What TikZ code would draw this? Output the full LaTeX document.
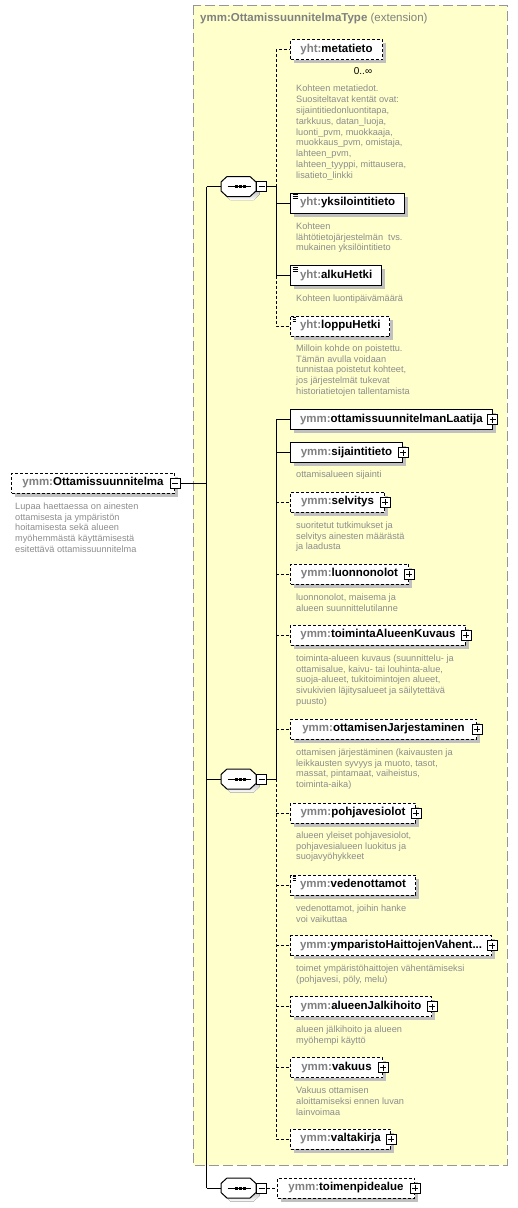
\documentclass[tikz,border=0pt]{standalone}
\usepackage{fontspec}
\setmainfont{Liberation Sans}
\usepackage{xcolor}
\usepackage{tikz}
\usetikzlibrary{shadows,positioning}
\definecolor{pfx}{RGB}{128,128,128}
\definecolor{notegray}{RGB}{140,140,140}
\definecolor{extfill}{RGB}{255,255,204}
\definecolor{extline}{RGB}{150,150,150}
\definecolor{shade}{RGB}{192,192,192}
\newcommand{\elemfont}{\fontsize{11.5}{13}\selectfont\bfseries}
\newcommand{\notefont}{\fontsize{9.2}{10.8}\selectfont}
\newcommand{\yht}[1]{{\color{pfx}yht:}#1}
\newcommand{\ymm}[1]{{\color{pfx}ymm:}#1}
% octagon of a sequence compositor, drawn round a named node
\newcommand{\seqshape}[1]{%
    \fill[shade] ([xshift=3.5pt,yshift=-3.5pt]#1.west) ++(0,-4.5) -- ++(6,-5.5) -- ++(23,0) -- ++(6,5.5) -- ++(0,9) -- ++(-6,5.5) -- ++(-23,0) -- ++(-6,-5.5) -- cycle;
    \draw[line width=1pt, fill=white] (#1.west) ++(0,-4.5) -- ++(6,-5.5) -- ++(23,0) -- ++(6,5.5) -- ++(0,9) -- ++(-6,5.5) -- ++(-23,0) -- ++(-6,-5.5) -- cycle;
    \draw[line width=1pt] ([xshift=-11pt]#1.center) -- ([xshift=12pt]#1.center);
    \fill ([xshift=-2pt]#1.center) +(-1.5pt,-1.5pt) rectangle +(1.5pt,1.5pt);
    \fill ([xshift=2pt]#1.center) +(-1.5pt,-1.5pt) rectangle +(1.5pt,1.5pt);
    \fill ([xshift=6pt]#1.center) +(-1.5pt,-1.5pt) rectangle +(1.5pt,1.5pt);}
\tikzstyle{elem} = [rectangle, draw, fill=white, line width=1pt, minimum height=20pt, inner xsep=9.5pt, inner ysep=0pt, anchor=west, font=\elemfont, drop shadow={shadow xshift=3.5pt, shadow yshift=-3.5pt, fill=shade, opacity=1}]
\tikzstyle{optelem} = [elem, dash pattern=on 3pt off 2pt]
\tikzstyle{simple} = [path picture={
    \draw[line width=0.7pt] ([xshift=2.2pt,yshift=-1.8pt]path picture bounding box.north west) -- ++(5pt,0pt);
    \draw[line width=0.7pt] ([xshift=2.2pt,yshift=-3.6pt]path picture bounding box.north west) -- ++(5pt,0pt);
    \draw[line width=0.7pt] ([xshift=2.2pt,yshift=-5.4pt]path picture bounding box.north west) -- ++(5pt,0pt);}]
\tikzstyle{note} = [align=left, inner sep=0pt, text=notegray, font=\notefont]
\tikzstyle{minusbox} = [rectangle, draw, fill=white, line width=0.8pt, minimum size=10pt, inner sep=0pt, path picture={
    \draw[line width=0.8pt] ([xshift=2pt]path picture bounding box.west) -- ([xshift=-2pt]path picture bounding box.east);}]
\tikzstyle{plusbox} = [rectangle, draw, fill=white, line width=0.8pt, minimum size=10pt, inner sep=0pt, path picture={
    \draw[line width=0.8pt] ([xshift=2pt]path picture bounding box.west) -- ([xshift=-2pt]path picture bounding box.east);
    \draw[line width=0.8pt] ([yshift=-2pt]path picture bounding box.north) -- ([yshift=2pt]path picture bounding box.south);}]
\tikzstyle{seqbox} = [rectangle, minimum width=35pt, minimum height=20pt, inner sep=0pt, anchor=west]
\tikzstyle{line} = [draw, line width=1pt]
\tikzstyle{optline} = [draw, line width=1pt, dash pattern=on 3pt off 2pt]

\begin{document}
\begin{tikzpicture}[x=1pt, y=-1pt]
    \useasboundingbox (0,0) rectangle (518,1208);

    % extension frame
    \draw[extline, fill=extfill, line width=1pt, dash pattern=on 10pt off 4pt] (193,5) rectangle (507,1165);
    \node[anchor=west, inner sep=0pt, text=pfx, font=\elemfont] (ext) at (200,19) {ymm:OttamissuunnitelmaType \mdseries(extension)};

    % root element
    \node[optelem, minimum width=163pt] (root) at (11,483) {\ymm{Ottamissuunnitelma}};
    \node[minusbox] (root-m) at (root.east) {};
    \node[note, below right=9pt and 4pt of root.south west] (root-n) {Lupaa haettaessa on ainesten\\ottamisesta ja ympäristön\\hoitamisesta sekä alueen\\myöhemmästä käyttämisestä\\esitettävä ottamissuunnitelma};

    % sequences
    \node[seqbox] (seq1) at (221,186.5) {};
    \seqshape{seq1}
    \node[minusbox, anchor=west] (seq1-m) at (seq1.east) {};
    \node[seqbox] (seq2) at (221,779) {};
    \seqshape{seq2}
    \node[minusbox, anchor=west] (seq2-m) at (seq2.east) {};
    \node[seqbox] (seq3) at (221,1188) {};
    \seqshape{seq3}
    \node[minusbox, anchor=west] (seq3-m) at (seq3.east) {};

    \coordinate (t1) at (206.5,186.5);
    \coordinate (t3) at (206.5,1188);
    \coordinate (b1) at (276,186.5);
    \coordinate (b2) at (276,779);

    % first sequence
    \node[optelem, minimum width=92pt] (meta) at (290,49.5) {\yht{metatieto}};
    \node[inner sep=0pt, font=\fontsize{10}{12}\selectfont] (meta-o) at (363,71) {0..∞};
    \node[note, below right=25pt and 6pt of meta.south west] (meta-n) {Kohteen metatiedot.\\Suositeltavat kentät ovat:\\sijaintitiedonluontitapa,\\tarkkuus, datan\_luoja,\\luonti\_pvm, muokkaaja,\\muokkaus\_pvm, omistaja,\\lahteen\_pvm,\\lahteen\_tyyppi, mittausera,\\lisatieto\_linkki};
    \node[elem, simple, minimum width=110pt] (yks) at (290,203) {\yht{yksilointitieto}};
    \node[note, below right=9pt and 6pt of yks.south west] (yks-n) {Kohteen\\lähtötietojärjestelmän\ \ tvs.\\mukainen yksilöintitieto};
    \node[elem, simple, minimum width=86pt] (alku) at (290,275.5) {\yht{alkuHetki}};
    \node[note, below right=9pt and 6pt of alku.south west] (alku-n) {Kohteen luontipäivämäärä};
    \node[optelem, simple, minimum width=95pt] (loppu) at (290,326) {\yht{loppuHetki}};
    \node[note, below right=8pt and 6pt of loppu.south west] (loppu-n) {Milloin kohde on poistettu.\\Tämän avulla voidaan\\tunnistaa poistetut kohteet,\\jos järjestelmät tukevat\\historiatietojen tallentamista};

    % second sequence
    \node[elem, minimum width=200pt] (laatija) at (290,419.5) {\ymm{ottamissuunnitelmanLaatija}};
    \node[plusbox] (laatija-p) at (laatija.east) {};
    \node[elem, minimum width=112pt] (sijainti) at (290,452.5) {\ymm{sijaintitieto}};
    \node[plusbox] (sijainti-p) at (sijainti.east) {};
    \node[note, below right=8pt and 6pt of sijainti.south west] (sijainti-n) {ottamisalueen sijainti};
    \node[optelem, minimum width=94pt] (selvitys) at (290,502) {\ymm{selvitys}};
    \node[plusbox] (selvitys-p) at (selvitys.east) {};
    \node[note, below right=9pt and 6pt of selvitys.south west] (selvitys-n) {suoritetut tutkimukset ja\\selvitys ainesten määrästä\\ja laadusta};
    \node[optelem, minimum width=118pt] (luonto) at (290,574) {\ymm{luonnonolot}};
    \node[plusbox] (luonto-p) at (luonto.east) {};
    \node[note, below right=9pt and 6pt of luonto.south west] (luonto-n) {luonnonolot, maisema ja\\alueen suunnittelutilanne};
    \node[optelem, minimum width=175pt] (toiminta) at (290,635) {\ymm{toimintaAlueenKuvaus}};
    \node[plusbox] (toiminta-p) at (toiminta.east) {};
    \node[note, below right=9pt and 6pt of toiminta.south west] (toiminta-n) {toiminta-alueen kuvaus (suunnittelu- ja\\ottamisalue, kaivu- tai louhinta-alue,\\suoja-alueet, tukitoimintojen alueet,\\sivukivien läjitysalueet ja säilytettävä\\puusto)};
    \node[optelem, minimum width=186pt] (jarjest) at (290,729) {\ymm{ottamisenJarjestaminen}};
    \node[plusbox] (jarjest-p) at (jarjest.east) {};
    \node[note, below right=9pt and 6pt of jarjest.south west] (jarjest-n) {ottamisen järjestäminen (kaivausten ja\\leikkausten syvyys ja muoto, tasot,\\massat, pintamaat, vaiheistus,\\toiminta-aika)};
    \node[optelem, minimum width=125pt] (pohja) at (290,813) {\ymm{pohjavesiolot}};
    \node[plusbox] (pohja-p) at (pohja.east) {};
    \node[note, below right=8pt and 6pt of pohja.south west] (pohja-n) {alueen yleiset pohjavesiolot,\\pohjavesialueen luokitus ja\\suojavyöhykkeet};
    \node[optelem, simple, minimum width=124pt] (vesi) at (290,885) {\ymm{vedenottamot}};
    \node[note, below right=9pt and 6pt of vesi.south west] (vesi-n) {vedenottamot, joihin hanke\\voi vaikuttaa};
    \node[optelem, minimum width=199pt] (haitta) at (290,945.5) {\ymm{ymparistoHaittojenVahent...}};
    \node[plusbox] (haitta-p) at (haitta.east) {};
    \node[note, below right=9pt and 6pt of haitta.south west] (haitta-n) {toimet ympäristöhaittojen vähentämiseksi\\(pohjavesi, pöly, melu)};
    \node[optelem, minimum width=141pt] (jalki) at (290,1006.5) {\ymm{alueenJalkihoito}};
    \node[plusbox] (jalki-p) at (jalki.east) {};
    \node[note, below right=9pt and 6pt of jalki.south west] (jalki-n) {alueen jälkihoito ja alueen\\myöhempi käyttö};
    \node[optelem, minimum width=92pt] (vakuus) at (290,1067.5) {\ymm{vakuus}};
    \node[plusbox] (vakuus-p) at (vakuus.east) {};
    \node[note, below right=9pt and 6pt of vakuus.south west] (vakuus-n) {Vakuus ottamisen\\aloittamiseksi ennen luvan\\lainvoimaa};
    \node[optelem, minimum width=100pt] (valta) at (290,1139) {\ymm{valtakirja}};
    \node[plusbox] (valta-p) at (valta.east) {};

    % third sequence
    \node[optelem, minimum width=137pt] (toimen) at (277,1188) {\ymm{toimenpidealue}};
    \node[plusbox] (toimen-p) at (toimen.east) {};

    % connectors
    \path [line] (t1) -- (t3);
    \path [line] (root-m.east) -- (root-m -| t1);
    \path [line] (t1) -- (seq1.west);
    \path [line] (t1 |- seq2) -- (seq2.west);
    \path [line] (t3) -- (seq3.west);

    \path [line] (seq1-m.east) -- (b1);
    \path [optline] (b1) |- (meta.west);
    \path [line] (b1) |- (yks.west);
    \path [line] (b1) |- (alku.west);
    \path [optline] (b1 |- alku.west) |- (loppu.west);

    \path [line] (seq2-m.east) -- (b2);
    \path [line] (b2) |- (laatija.west);
    \path [line] (b2 |- sijainti.west) -- (sijainti.west);
    \path [optline] (b2 |- selvitys.west) -- (selvitys.west);
    \path [optline] (b2 |- luonto.west) -- (luonto.west);
    \path [optline] (b2 |- toiminta.west) -- (toiminta.west);
    \path [optline] (b2 |- jarjest.west) -- (jarjest.west);
    \path [optline] (b2) |- (valta.west);
    \path [optline] (b2 |- pohja.west) -- (pohja.west);
    \path [optline] (b2 |- vesi.west) -- (vesi.west);
    \path [optline] (b2 |- haitta.west) -- (haitta.west);
    \path [optline] (b2 |- jalki.west) -- (jalki.west);
    \path [optline] (b2 |- vakuus.west) -- (vakuus.west);

    \path [optline] (seq3-m.east) -- (toimen.west);
\end{tikzpicture}
\end{document}
